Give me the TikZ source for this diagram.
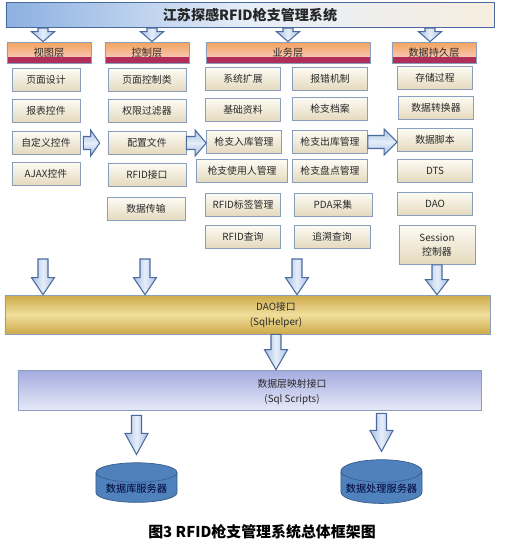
\documentclass[tikz,border=0pt]{standalone}
\usepackage{fontspec}
\setmainfont{Noto Sans CJK SC}
\usepackage{tikz}
\usetikzlibrary{calc,shapes.geometric}
\definecolor{boxline}{HTML}{8A9FBE}
\definecolor{creamtop}{HTML}{FDFBF3}
\definecolor{creambot}{HTML}{E4D9BE}
\definecolor{txtdark}{HTML}{2A2A2A}
\definecolor{headtop}{HTML}{F4A35C}
\definecolor{headbot}{HTML}{FAD3D6}
\definecolor{headstrip}{HTML}{B02D5A}
\definecolor{arrline}{HTML}{4A6A9E}
\definecolor{arrside}{HTML}{A7BFE2}
\definecolor{arrmid}{HTML}{E6EEF9}
\definecolor{titleblue}{HTML}{8CB0E0}
\definecolor{titlecream}{HTML}{F7EEDF}
\definecolor{goldtop}{HTML}{CDAA48}
\definecolor{goldmid}{HTML}{F0DE9C}
\definecolor{maptop}{HTML}{A3ABDF}
\definecolor{mapbot}{HTML}{E6E9F8}
\definecolor{dbblue}{HTML}{4F81BD}
\definecolor{dbline}{HTML}{385D8A}
\tikzset{%
  featbox/.style={draw=boxline, top color=creamtop, bottom color=creambot, align=center,
    minimum width=#1, minimum height=4.6mm, inner sep=1pt, text=txtdark,
    font=\fontsize{5.6}{7.5}\selectfont},
  featbox/.default=15mm,
  layerhead/.style={draw=boxline, top color=headtop, bottom color=headbot, minimum height=4.2mm,
    inner sep=1pt, text=txtdark, font=\fontsize{5.8}{7}\selectfont,
    path picture={\fill[headstrip] (path picture bounding box.south west) rectangle
      ([yshift=1.2mm]path picture bounding box.south east);}},
  blockarr/.style={draw=arrline, line width=0.6pt, left color=arrside, right color=arrside, middle color=arrmid},
  blockarrh/.style={draw=arrline, line width=0.6pt, top color=arrside, bottom color=arrside, middle color=arrmid}%
}
% vertical block arrow: [head length]{from}{to}
\newcommand{\vblock}[3][3.4mm]{%
  \path[blockarr] let \p1=(#2), \p2=(#3) in
    (\x1-1mm,\y1) -- (\x1+1mm,\y1) -- (\x1+1mm,\y2+#1) -- (\x1+2.3mm,\y2+#1)
    -- (\x1,\y2) -- (\x1-2.3mm,\y2+#1) -- (\x1-1mm,\y2+#1) -- cycle;}
% horizontal block arrow
\newcommand{\hblock}[3][2.2mm]{%
  \path[blockarrh] let \p1=(#2), \p2=(#3) in
    (\x1,\y1-1.3mm) -- (\x2-#1,\y1-1.3mm) -- (\x2-#1,\y1-2.6mm) -- (\x2,\y1)
    -- (\x2-#1,\y1+2.6mm) -- (\x2-#1,\y1+1.3mm) -- (\x1,\y1+1.3mm) -- cycle;}

\begin{document}
\begin{tikzpicture}[
    x=0.2mm, y=-0.2mm,
    titlebar/.style={
        draw=arrline,
        left color=titleblue,
        right color=titlecream,
        middle color=arrmid,
        minimum width=97.6mm,
        minimum height=4mm,
        text=black!85,
        font=\fontsize{8}{9}\selectfont\bfseries
    },
    bar/.style={draw=boxline, minimum height=7.8mm},
    bartext/.style={align=center, text=txtdark, font=\fontsize{5.6}{9}\selectfont},
    dbnode/.style={
        cylinder,
        shape border rotate=90,
        aspect=0.3,
        minimum width=16.2mm,
        minimum height=5.6mm,
        inner sep=1pt,
        cylinder uses custom fill,
        cylinder body fill=dbblue,
        cylinder end fill=dbblue,
        draw=dbline,
        text=black!80!blue,
        font=\fontsize{5.8}{7}\selectfont
    }
]
\useasboundingbox (0,0) rectangle (515,550);

% Title bar
\node[titlebar] (title) at (250,15) {江苏探感RFID枪支管理系统};

% Layer headers
\node[layerhead, minimum width=16.8mm] (vhead) at (49,52.5) {视图层};
\node[layerhead, minimum width=16.8mm] (chead) at (147,52.5) {控制层};
\node[layerhead, minimum width=32.8mm] (bhead) at (288,52.5) {业务层};
\node[layerhead, minimum width=16.8mm] (phead) at (434,52.5) {数据持久层};

\vblock[2mm]{$(vhead.north |- title.south)+(-6,0)$}{$(vhead.north)+(-6,0)$}
\vblock[2mm]{$(chead.north |- title.south)+(5,0)$}{$(chead.north)+(5,0)$}
\vblock[2mm]{bhead.north |- title.south}{bhead.north}
\vblock[2mm]{$(phead.north |- title.south)+(-4,0)$}{$(phead.north)+(-4,0)$}

% View layer
\node[featbox=13.6mm] (vw1) at (46,80) {页面设计};
\node[featbox=13.6mm] (vw2) at (46,111) {报表控件};
\node[featbox=13.6mm] (vw3) at (46,143) {自定义控件};
\node[featbox=13.6mm] (vw4) at (46,174) {AJAX控件};

% Control layer
\node[featbox=15.6mm] (ct1) at (147,80) {页面控制类};
\node[featbox=15.6mm] (ct2) at (147,111) {权限过滤器};
\node[featbox=15.6mm] (ct3) at (147,143) {配置文件};
\node[featbox=15.6mm] (ct4) at (147,175) {RFID接口};
\node[featbox=15.6mm] (ct5) at (146,209) {数据传输};

% Business layer
\node[featbox] (bzl1) at (243,79) {系统扩展};
\node[featbox] (bzl2) at (243,110) {基础资料};
\node[featbox] (bzl3) at (244,142) {枪支入库管理};
\node[featbox=18.2mm] (bzl4) at (242,171) {枪支使用人管理};
\node[featbox] (bzl5) at (243,205) {RFID标签管理};
\node[featbox] (bzl6) at (243,237) {RFID查询};
\node[featbox] (bzr1) at (330,79) {报错机制};
\node[featbox] (bzr2) at (330,109) {枪支档案};
\node[featbox] (bzr3) at (330,142) {枪支出库管理};
\node[featbox] (bzr4) at (330,171) {枪支盘点管理};
\node[featbox=15.6mm] (bzr5) at (333,205) {PDA采集};
\node[featbox=15.2mm] (bzr6) at (332,237) {追溯查询};

% Persistence layer
\node[featbox] (dp1) at (435,78) {存储过程};
\node[featbox] (dp2) at (436,108) {数据转换器};
\node[featbox] (dp3) at (435,140) {数据脚本};
\node[featbox] (dp4) at (435,171) {DTS};
\node[featbox] (dp5) at (435,204) {DAO};
\node[featbox=15.2mm, minimum height=7.8mm] (dp6) at (437,245) {Session\\控制器};

% Arrows between layers
\hblock[1.8mm]{$(vw3.east)+(3,0)$}{$(ct3.west)+(-8,0)$}
\hblock{ct3.east}{bzl3.west}
\hblock[2.6mm]{bzr3.east}{$(dp3.west)+(0,2)$}

% DAO interface
\node[bar, top color=goldtop, bottom color=goldtop, middle color=goldmid, minimum width=97mm] (dao) at (247.5,314.5) {};
\node[bartext] (daolbl) at (276,315) {DAO接口\\(SqlHelper)};

\coordinate (vout) at (43,259);
\coordinate (cout) at (145,259);
\coordinate (bout) at (297,259);
\vblock{vout}{vout |- dao.north}
\vblock{cout}{cout |- dao.north}
\vblock{bout}{bout |- dao.north}
\vblock[3mm]{dp6.south}{dp6.south |- dao.north}

% Mapping interface
\node[bar, top color=maptop, bottom color=mapbot, minimum width=92.6mm, minimum height=8mm] (map) at (249.5,390) {};
\node[bartext] (maplbl) at (292,392) {数据层映射接口\\(Sql Scripts)};

\vblock[4mm]{daolbl |- dao.south}{daolbl |- map.north}

% Servers
\node[dbnode] (db1) at (136.5,489) {数据库服务器};
\node[dbnode] (db2) at (381.5,489) {数据处理服务器};

\vblock[4.2mm]{$(db1 |- map.south)+(0,5)$}{$(db1.north)+(0,-8)$}
\vblock[4.2mm]{$(db2 |- map.south)+(0,3)$}{$(db2.north)+(0,-8)$}

% Caption
\node[font=\fontsize{8.5}{10}\selectfont\bfseries] (cap) at (262,532) {图3 RFID枪支管理系统总体框架图};

\end{tikzpicture}
\end{document}
